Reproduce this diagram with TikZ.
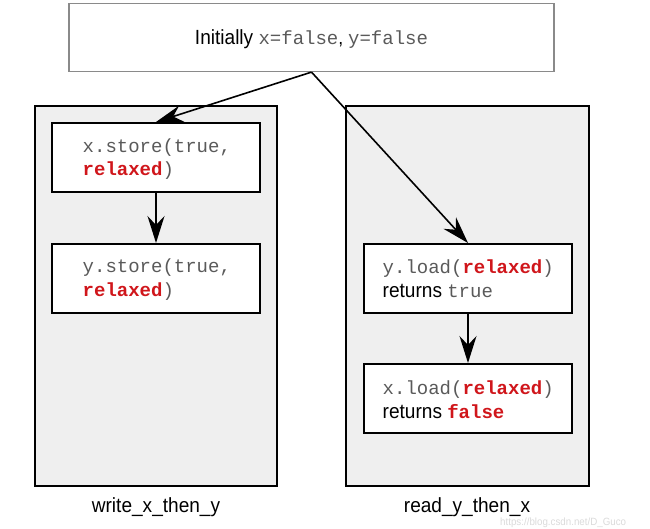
\documentclass[tikz,border=0pt]{standalone}
\usepackage{fontspec}
\setmainfont{Liberation Sans}
\setmonofont{Liberation Mono}
\newfontfamily\narrowsans[FakeStretch=0.93]{Liberation Sans}
\usetikzlibrary{arrows.meta}
\definecolor{codegray}{HTML}{5A5A5A}
\definecolor{kwred}{HTML}{D0161B}
\definecolor{panel}{HTML}{EFEFEF}
\definecolor{topborder}{HTML}{8A8A8A}
\definecolor{wm}{HTML}{DADADA}
\newcommand{\cd}[1]{{\ttfamily\color{codegray}#1}}
\newcommand{\kw}[1]{{\ttfamily\bfseries\color{kwred}#1}}
\tikzset{
  panelbox/.style={draw=black, line width=2pt, fill=panel, inner sep=0pt},
  opbox/.style={draw=black, line width=2pt, fill=white, inner sep=0pt, minimum width=208pt, minimum height=69pt},
  topbox/.style={draw=topborder, line width=1.2pt, fill=white, inner sep=0pt, minimum width=485pt, minimum height=68pt},
  codeline/.style={anchor=base west, inner sep=0pt, font=\fontsize{19}{24}\selectfont},
  caption/.style={anchor=base, inner sep=0pt, font=\narrowsans\fontsize{20.5}{24}\selectfont},
  flow/.style={-{Stealth[length=27pt,width=17pt,inset=9pt]}, line width=1.6pt, black},
}
\begin{document}
\begin{tikzpicture}[x=1pt,y=-1pt]
\useasboundingbox (0,0) rectangle (650,528);
% panels
\node[panelbox, minimum width=242pt, minimum height=380pt] (left) at (156,296) {};
\node[panelbox, minimum width=243pt, minimum height=380pt] (right) at (467.5,296) {};
% top box
\node[topbox] (init) at (311.5,37.5) {};
\node[anchor=base, inner sep=0pt] (inittext) at (311.5,44)
  {{\narrowsans\fontsize{20.5}{24}\selectfont Initially }{\fontsize{19}{24}\selectfont\cd{x=false}{\narrowsans, }\cd{y=false}}};
% op boxes
\node[opbox] (A) at (156,157.5) {};
\node[opbox] (B) at (156,278.5) {};
\node[opbox] (C) at (468,278.5) {};
\node[opbox] (D) at (468,398.5) {};
% texts
\node[codeline] (a1) at (82.5,152.5) {\cd{x.store(true,}};
\node[codeline] (a2) at (82.5,175.5) {\kw{relaxed}\cd{)}};
\node[codeline] (b1) at (82.5,272.5) {\cd{y.store(true,}};
\node[codeline] (b2) at (82.5,296.5) {\kw{relaxed}\cd{)}};
\node[codeline] (c1) at (382.5,273) {\cd{y.load(}\kw{relaxed}\cd{)}};
\node[codeline] (c2) at (382.5,297.5) {{\narrowsans\fontsize{20.5}{24}\selectfont returns }\cd{true}};
\node[codeline] (d1) at (382.5,394) {\cd{x.load(}\kw{relaxed}\cd{)}};
\node[codeline] (d2) at (382.5,418) {{\narrowsans\fontsize{20.5}{24}\selectfont returns }\kw{false}};
% captions
\node[caption] (capL) at (156,512) {write\_x\_then\_y};
\node[caption] (capR) at (467,512) {read\_y\_then\_x};
% watermark
\node[anchor=base west, inner sep=0pt, text=wm, font=\narrowsans\fontsize{10.5}{12}\selectfont] (wmark) at (500,525) {https://blog.csdn.net/D\_Guco};
% connectors
\draw[flow] (init.south) -- (A.north);
\draw[flow] (init.south) -- (C.north);
\draw[flow] (A.south) -- (B.north);
\draw[flow] (C.south) -- (D.north);
\end{tikzpicture}
\end{document}
